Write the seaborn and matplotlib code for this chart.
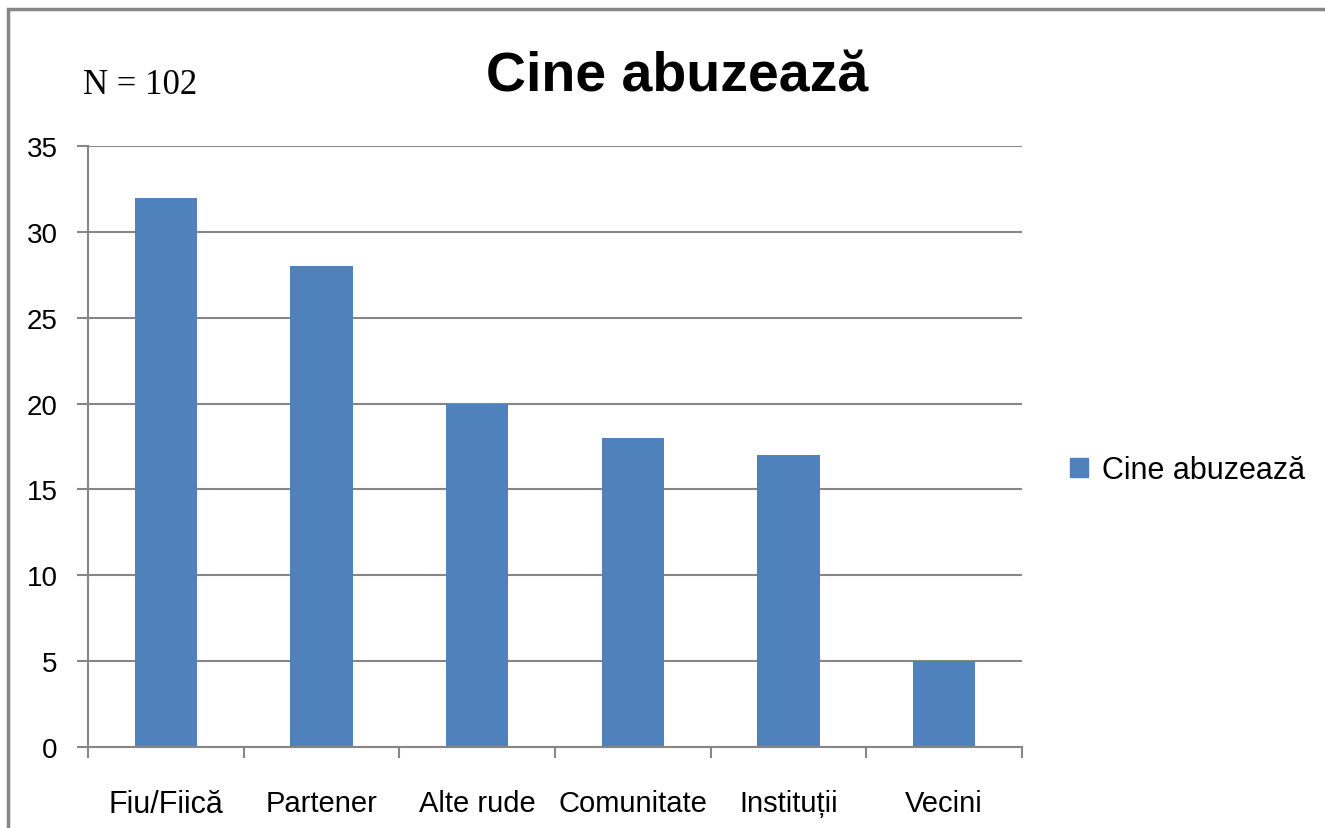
import matplotlib
matplotlib.use('Agg')
import matplotlib.pyplot as plt
import matplotlib.patches as mpatches
from matplotlib.ticker import FixedLocator
import seaborn as sns
import pandas as pd

# date
categorii = ['Fiu/Fiică', 'Partener', 'Alte rude', 'Comunitate', 'Instituții', 'Vecini']
valori = [32, 28, 20, 18, 17, 5]
serie = 'Cine abuzează'
yticks = [0, 5, 10, 15, 20, 25, 30, 35]

culoare = '#4F81BD'
gri = '#868686'

sns.set_theme(style='white')
plt.rcParams['font.family'] = ['Liberation Sans', 'DejaVu Sans']
plt.rcParams['text.color'] = 'black'

df = pd.DataFrame({'cine': categorii, 'n': valori})

fig = plt.figure(figsize=(13.25, 8.29), dpi=100)
ax = fig.add_axes([88 / 1325, 1 - 748 / 829, (1022 - 88) / 1325, (748 - 147) / 829])

sns.barplot(data=df, x='cine', y='n', color=culoare, width=0.4, saturation=1,
            linewidth=0, ax=ax)

ax.set_xlim(-0.5, len(categorii) - 0.5)
ax.set_ylim(0, 35)
ax.set_yticks(yticks)
ax.yaxis.grid(True, color=gri, linewidth=1.5)
ax.set_axisbelow(True)
ax.set_xlabel('')
ax.set_ylabel('')

for s in ['top', 'right']:
    ax.spines[s].set_visible(False)
for s in ['left', 'bottom']:
    ax.spines[s].set_color(gri)
    ax.spines[s].set_linewidth(1.5)

# tick-uri la granitele categoriilor
ax.xaxis.set_minor_locator(FixedLocator([i - 0.5 for i in range(len(categorii) + 1)]))
ax.tick_params(axis='x', which='minor', length=8, width=1.5, color=gri, direction='out', bottom=True)
ax.tick_params(axis='x', which='major', length=0, pad=30)
ax.tick_params(axis='y', length=8, width=1.5, color=gri, direction='out', left=True, pad=14,
               labelsize=20, labelcolor='black')

ax.set_xticks(range(len(categorii)))
ax.set_xticklabels(categorii)
for i, lbl in enumerate(ax.get_xticklabels()):
    if i == 0:
        lbl.set_fontsize(22)
    else:
        lbl.set_family(['Liberation Sans Narrow', 'Liberation Sans'])
        lbl.set_fontsize(21)
    lbl.set_color('black')

fig.text(677 / 1325, 1 - 78 / 829, 'Cine abuzează', ha='center', va='center',
         fontsize=40, fontweight='bold', color='black')
fig.text(83 / 1325, 1 - 85 / 829, 'N = 102', ha='left', va='center',
         fontsize=25, color='black', family=['Liberation Serif', 'DejaVu Serif'])

fig.legend(handles=[mpatches.Patch(color=culoare, label=serie)],
           loc='center left', bbox_to_anchor=(1070 / 1325, 1 - 471 / 829),
           frameon=False, fontsize=22, handlelength=0.6, handleheight=0.6,
           handletextpad=0.45, borderaxespad=0, borderpad=0, labelcolor='black')

# chenarul graficului
fig.patches.append(mpatches.Rectangle((8 / 1325, -0.05), 1.1, 1 - 10 / 829 + 0.05,
                                      transform=fig.transFigure, fill=False,
                                      edgecolor=gri, linewidth=2.5))

fig.savefig('out.png', dpi=100)
